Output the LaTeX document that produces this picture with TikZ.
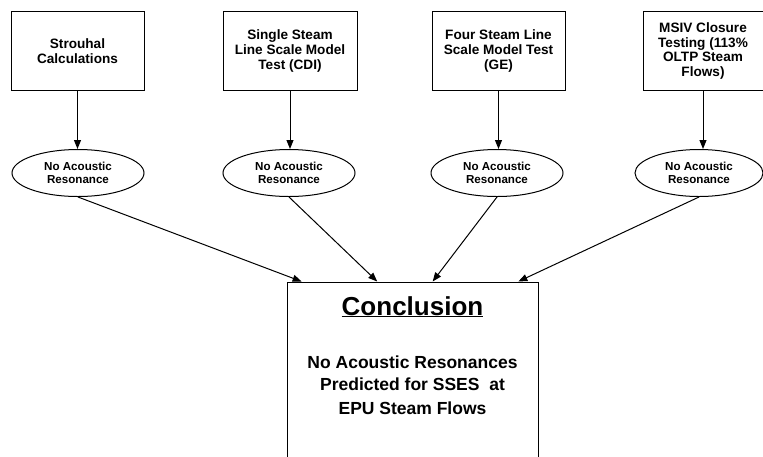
\documentclass[tikz,border=0pt]{standalone}
\usepackage{fontspec}
\setmainfont{Liberation Sans}
\usetikzlibrary{arrows.meta, shapes.geometric, calc}

\begin{document}
\begin{tikzpicture}[x=1pt, y=-1pt, line width=1pt,
    >={Triangle[length=9pt, width=7pt]},
    testbox/.style={draw, rectangle, minimum height=79pt, inner sep=0pt, align=center,
      font=\fontsize{13.6}{14.8}\selectfont\bfseries},
    resbox/.style={draw, ellipse, minimum width=132pt, minimum height=47pt, inner sep=0pt, align=center,
      font=\fontsize{11.6}{12.8}\selectfont\bfseries}]
    \useasboundingbox (0,0) rectangle (763,456);
    \node (Strouhal) at (77.5,51) [testbox, minimum width=133pt] {Strouhal\\Calculations};
    \node (CDI) at (290,51) [testbox, minimum width=134pt] {Single Steam\\Line Scale Model\\Test (CDI)};
    \node (GE) at (498.5,51) [testbox, minimum width=133pt] {Four Steam Line\\Scale Model Test\\(GE)};
    \node (MSIV) at (703,51) [testbox, minimum width=120pt] {MSIV Closure\\Testing (113\%\\OLTP Steam\\Flows)};
    \node (NoAR1) at (78,173) [resbox] {No Acoustic\\Resonance};
    \node (NoAR2) at (289,173) [resbox] {No Acoustic\\Resonance};
    \node (NoAR3) at (497,173) [resbox] {No Acoustic\\Resonance};
    \node (NoAR4) at (699,173) [resbox, minimum width=128pt] {No Acoustic\\Resonance};
    \node (Concl) at (412.5,371) [draw, rectangle, minimum width=251pt, minimum height=178pt] {};
    \node (ConclTitle) at (412.5,315) [anchor=base, font=\fontsize{26}{30}\selectfont\bfseries]
      {\underline{Conclusion}};
    \node (ConclText) at (412.5,365) [anchor=north, yshift=13pt, align=center,
      font=\fontsize{17.5}{22}\selectfont\bfseries]
      {No Acoustic Resonances\\Predicted for SSES~~at\\[2pt]EPU Steam Flows};
    \foreach \src/\dst in {Strouhal/NoAR1, CDI/NoAR2, GE/NoAR3, MSIV/NoAR4}
      \draw[->] (\src.south) -- (\src.south |- \dst.north);
    \foreach \src/\pos in {NoAR1/0.06, NoAR2/0.36, NoAR3/0.58, NoAR4/0.92}
      \draw[->] (\src.south) -- ($(Concl.north west)!\pos!(Concl.north east)$);
\end{tikzpicture}
\end{document}
